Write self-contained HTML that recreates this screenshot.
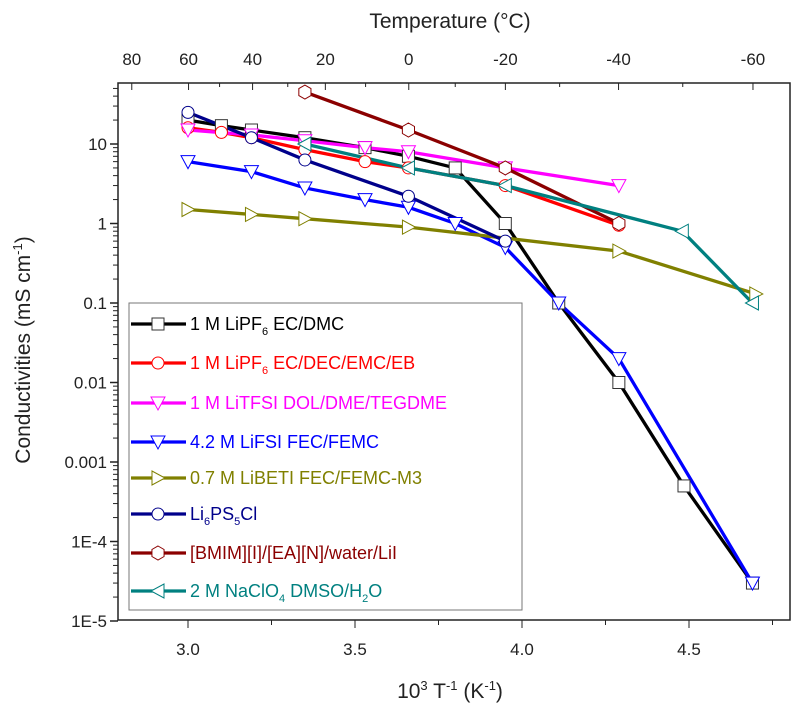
<!DOCTYPE html>
<html><head><meta charset="utf-8"><style>
body{margin:0;background:#fff;}
svg{display:block;font-family:"Liberation Sans",sans-serif;}
</style></head><body>
<svg id="s" width="805" height="714" xmlns="http://www.w3.org/2000/svg"></svg>
<script>
const s=document.getElementById('s');
let h='';
const X=v=>188+(v-3)*334;
const Y=v=>144-(Math.log10(v)-1)*79.5;
h+='<rect x="118" y="83" width="672" height="537" fill="none" stroke="#222" stroke-width="1.5"/>';
[3.0,3.5,4.0,4.5].forEach(v=>{h+=`<line x1="${X(v)}" y1="620" x2="${X(v)}" y2="628" stroke="#222"/><text x="${X(v)}" y="655" font-size="17" fill="#222" text-anchor="middle">${v.toFixed(1)}</text>`;});
[3.25,3.75,4.25,4.75].forEach(v=>{h+=`<line x1="${X(v)}" y1="620" x2="${X(v)}" y2="625" stroke="#222"/>`;});
h+='<text x="450" y="698" font-size="21" fill="#222" text-anchor="middle">10<tspan font-size="13" dy="-8">3</tspan><tspan dy="8"> T</tspan><tspan font-size="13" dy="-8">-1</tspan><tspan dy="8"> (K</tspan><tspan font-size="13" dy="-8">-1</tspan><tspan dy="8">)</tspan></text>';
[80,60,40,20,0,-20,-40,-60].forEach(t=>{const x=X(1000/(t+273.15));h+=`<line x1="${x}" y1="83" x2="${x}" y2="90" stroke="#222"/><text x="${x}" y="65" font-size="17" fill="#222" text-anchor="middle">${t}</text>`;});
[50,30,10,-10,-30,-50].forEach(t=>{const x=X(1000/(t+273.15));h+=`<line x1="${x}" y1="83" x2="${x}" y2="87" stroke="#222"/>`;});
h+='<text x="450" y="28" font-size="21" fill="#222" text-anchor="middle">Temperature (°C)</text>';
const labs={'-5':'1E-5','-4':'1E-4','-3':'0.001','-2':'0.01','-1':'0.1','0':'1','1':'10'};
for(let e=-5;e<=1;e++){const y=Y(Math.pow(10,e));h+=`<line x1="110" y1="${y}" x2="118" y2="${y}" stroke="#222" stroke-width="1.5"/><text x="107" y="${y+6}" font-size="17" fill="#222" text-anchor="end">${labs[e]}</text>`;
 for(let m=2;m<10;m++){const v=m*Math.pow(10,e);const yy=Y(v);if(yy>83)h+=`<line x1="113" y1="${yy}" x2="118" y2="${yy}" stroke="#222"/>`;}}
h+='<text transform="translate(30,350) rotate(-90)" font-size="21" fill="#222" text-anchor="middle">Conductivities (mS cm<tspan font-size="13" dy="-8">-1</tspan><tspan dy="8">)</tspan></text>';
function mk(t,x,y,c){const r=6;
 if(t=='sq')return `<rect x="${x-r}" y="${y-r}" width="${2*r}" height="${2*r}" fill="#fff" stroke="#333" stroke-width="1"/>`;
 if(t=='o')return `<circle cx="${x}" cy="${y}" r="${r}" fill="#fff" stroke="${c}" stroke-width="1"/>`;
 if(t=='dn')return `<polygon points="${x-7},${y-6} ${x+7},${y-6} ${x},${y+7}" fill="#fff" stroke="${c}" stroke-width="1"/>`;
 if(t=='rt')return `<polygon points="${x-6},${y-7} ${x-6},${y+7} ${x+7},${y}" fill="#fff" stroke="${c}" stroke-width="1"/>`;
 if(t=='lt')return `<polygon points="${x+6},${y-7} ${x+6},${y+7} ${x-7},${y}" fill="#fff" stroke="${c}" stroke-width="1"/>`;
 if(t=='hex'){let p=[];for(let i=0;i<6;i++){const a=Math.PI/3*i-Math.PI/2;p.push((x+7*Math.cos(a))+','+(y+7*Math.sin(a)));}return `<polygon points="${p.join(' ')}" fill="#fff" stroke="${c}" stroke-width="1"/>`;}
}
const S=[
['#000','sq',[[3.0,20],[3.1,17],[3.19,15],[3.35,12],[3.53,9],[3.66,7],[3.8,5],[3.95,1],[4.11,0.1],[4.29,0.01],[4.485,5e-4],[4.69,3e-5]]],
['#ff0000','o',[[3.0,16],[3.1,14],[3.19,12],[3.35,8.5],[3.53,6],[3.66,5],[3.95,3],[4.29,0.95]]],
['#ff00ff','dn',[[3.0,15],[3.19,13],[3.35,11],[3.53,9],[3.66,8],[3.95,5],[4.29,3]]],
['#0000ff','dn',[[3.0,6],[3.19,4.5],[3.35,2.8],[3.53,2],[3.66,1.6],[3.8,1.0],[3.95,0.5],[4.11,0.1],[4.29,0.02],[4.69,3e-5]]],
['#808000','rt',[[3.0,1.5],[3.19,1.3],[3.35,1.15],[3.66,0.9],[4.29,0.45],[4.7,0.13]]],
['#00008b','o',[[3.0,25],[3.19,12],[3.35,6.3],[3.66,2.2],[3.95,0.6]]],
['#8b0000','hex',[[3.35,45],[3.66,15],[3.95,5],[4.29,1]]],
['#008080','lt',[[3.35,10],[3.66,5],[3.95,3],[4.48,0.8],[4.69,0.1]]]
];
S.forEach(([c,m,d])=>{h+=`<polyline points="${d.map(p=>X(p[0])+','+Y(p[1])).join(' ')}" fill="none" stroke="${c}" stroke-width="3.3"/>`;});
S.forEach(([c,m,d])=>{d.forEach(p=>{h+=mk(m,X(p[0]),Y(p[1]),c);});});
h+='<rect x="129" y="303" width="393" height="307" fill="#fff" stroke="#777" stroke-width="1"/>';
const L=['1 M LiPF<tspan font-size="11" dy="5">6</tspan><tspan dy="-5"> EC/DMC</tspan>','1 M LiPF<tspan font-size="11" dy="5">6</tspan><tspan dy="-5"> EC/DEC/EMC/EB</tspan>','1 M LiTFSI DOL/DME/TEGDME','4.2 M LiFSI FEC/FEMC','0.7 M LiBETI FEC/FEMC-M3','Li<tspan font-size="11" dy="5">6</tspan><tspan dy="-5">PS</tspan><tspan font-size="11" dy="5">5</tspan><tspan dy="-5">Cl</tspan>','[BMIM][I]/[EA][N]/water/LiI','2 M NaClO<tspan font-size="11" dy="5">4</tspan><tspan dy="-5"> DMSO/H</tspan><tspan font-size="11" dy="5">2</tspan><tspan dy="-5">O</tspan>'];
const LY=[324,363,403,442,478,514,553,591];
S.forEach(([c,m],i)=>{const y=LY[i];h+=`<line x1="131" y1="${y}" x2="186" y2="${y}" stroke="${c}" stroke-width="3.3"/>`+mk(m,158,y,c)+`<text x="190" y="${y+6}" font-size="18" fill="${c}">${L[i]}</text>`;});
s.innerHTML=h;
</script>
</body></html>
